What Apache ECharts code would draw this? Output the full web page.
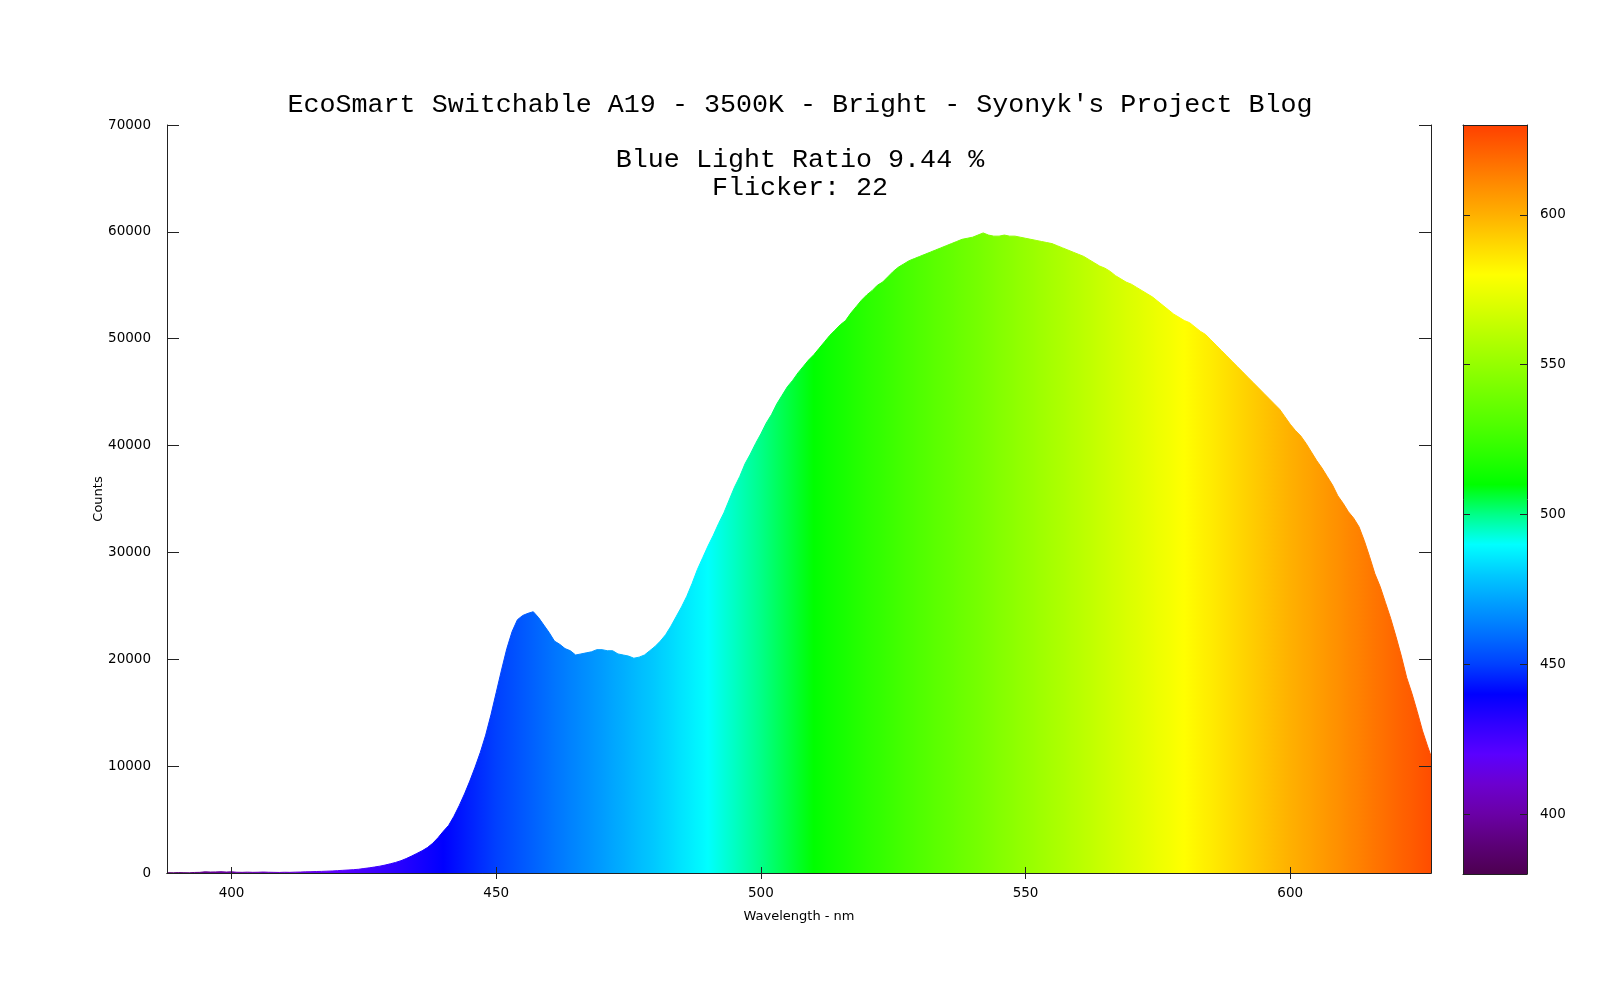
<!DOCTYPE html>
<html>
<head>
<meta charset="utf-8">
<script src="https://cdn.jsdelivr.net/npm/echarts@6/dist/echarts.min.js"></script>
<style>html,body{margin:0;padding:0;background:#fff}#c{width:1600px;height:1000px}</style>
</head>
<body>
<div id="c"></div>
<script>
const titleText = "EcoSmart Switchable A19 - 3500K - Bright - Syonyk's Project Blog";
const noteLines = ["Blue Light Ratio 9.44 %", "Flicker: 22"];
const xName = "Wavelength - nm";
const yName = "Counts";

const wavelength = [
388,389,390,391,392,393,394,395,396,397,
398,399,400,401,402,403,404,405,406,407,
408,409,410,411,412,413,414,415,416,417,
418,419,420,421,422,423,424,425,426,427,
428,429,430,431,432,433,434,435,436,437,
438,439,440,441,442,443,444,445,446,447,
448,449,450,451,452,453,454,455,456,457,
458,459,460,461,462,463,464,465,466,467,
468,469,470,471,472,473,474,475,476,477,
478,479,480,481,482,483,484,485,486,487,
488,489,490,491,492,493,494,495,496,497,
498,499,500,501,502,503,504,505,506,507,
508,509,510,511,512,513,514,515,516,517,
518,519,520,521,522,523,524,525,526,527,
528,529,530,531,532,533,534,535,536,537,
538,539,540,541,542,543,544,545,546,547,
548,549,550,551,552,553,554,555,556,557,
558,559,560,561,562,563,564,565,566,567,
568,569,570,571,572,573,574,575,576,577,
578,579,580,581,582,583,584,585,586,587,
588,589,590,591,592,593,594,595,596,597,
598,599,600,601,602,603,604,605,606,607,
608,609,610,611,612,613,614,615,616,617,
618,619,620,621,622,623,624,625,626,627
];

const counts = [
30,20,40,30,20,50,60,110,90,100,
120,90,110,70,60,80,60,70,90,70,
60,50,70,60,80,90,110,120,140,150,
170,190,220,250,280,310,350,420,480,560,
640,740,860,990,1150,1350,1580,1830,2080,2380,
2780,3300,3900,4450,5300,6300,7400,8600,9900,11300,
12900,14800,16900,19000,21000,22600,23700,24100,24300,24450,
23900,23200,22500,21700,21400,21000,20800,20400,20500,20600,
20700,20900,20900,20800,20800,20500,20400,20300,20100,20200,
20400,20800,21200,21700,22300,23100,24000,24900,25900,27100,
28400,29500,30600,31600,32700,33700,34900,36100,37100,38300,
39200,40200,41100,42100,42900,43900,44700,45500,46100,46800,
47400,48000,48500,49100,49700,50300,50800,51300,51700,52400,
53000,53600,54100,54500,55000,55300,55800,56300,56700,57000,
57300,57500,57700,57900,58100,58300,58500,58700,58900,59100,
59300,59400,59500,59700,59900,59700,59600,59600,59700,59600,
59600,59500,59400,59300,59200,59100,59000,58900,58700,58500,
58300,58100,57900,57700,57400,57100,56800,56600,56300,55900,
55600,55300,55100,54800,54500,54200,53900,53500,53100,52700,
52300,52000,51700,51500,51100,50700,50400,49900,49400,48900,
48400,47900,47400,46900,46400,45900,45400,44900,44400,43900,
43400,42700,42000,41400,40900,40200,39400,38600,37900,37100,
36300,35300,34600,33800,33200,32400,31100,29600,28000,26800,
25300,23800,22100,20300,18300,16800,15100,13300,11800,10400
];

const xRange = [387.8, 626.6];
const xTicks = [400, 450, 500, 550, 600];
const yRange = [0, 70000];
const yStep = 10000;
const colorbarRange = [380, 630];
const colorbarTicks = [400, 450, 500, 550, 600];

const paletteWavelengths = [380,390,400,410,420,430,440,450,460,470,480,490,500,510,520,530,540,550,560,570,580,590,600,610,620,630];
const paletteColors = ['#4d0050','#5c0078','#6a00a6','#6c00d0','#5a00ff','#3000ff','#0000ff','#0040ff','#0070ff','#009cff','#00caff','#00ffff','#00ff88','#00ff00','#2aff00','#50ff00','#72ff00','#95ff00','#b8ff00','#dcff00','#ffff00','#ffd800','#ffb000','#ff8c00','#ff6600','#ff4000'];

const chart = echarts.init(document.getElementById('c'), null, {renderer: 'canvas'});
const points = wavelength.map((w, i) => [w, counts[i]]);
const cbSpan = colorbarRange[1] - colorbarRange[0];
const cbStops = paletteColors.map((c, i) => ({offset: (paletteWavelengths[i] - colorbarRange[0]) / cbSpan, color: c}));

const sans = 'DejaVu Sans';
const mono = 'Liberation Mono';
const lineCol = '#222';
const labelSize = 13.5;
const monoStyle = {fontFamily: mono, fontSize: 26.7, fontWeight: 'normal', color: '#000'};

chart.setOption({
  animation: false,
  backgroundColor: '#fff',
  title: [
    {text: titleText, left: 'center', top: 91, padding: 0, textStyle: monoStyle},
    {text: noteLines[0], left: 'center', top: 146, padding: 0, textStyle: monoStyle},
    {text: noteLines[1], left: 'center', top: 174, padding: 0, textStyle: monoStyle}
  ],
  grid: [
    {left: 167, top: 125, width: 1264, height: 748, containLabel: false},
    {left: 1463, top: 125, width: 64, height: 749, containLabel: false}
  ],
  visualMap: [{
    type: 'continuous', show: false, seriesIndex: 0, dimension: 0,
    min: colorbarRange[0], max: colorbarRange[1],
    inRange: {color: paletteColors}
  }],
  xAxis: [
    {gridIndex: 0, type: 'value', min: xRange[0], max: xRange[1], position: 'bottom', z: 5,
     axisLine: {show: true, lineStyle: {color: lineCol, width: 1}},
     axisTick: {show: true, inside: true, length: 6, lineStyle: {color: lineCol}, customValues: xTicks},
     axisLabel: {show: true, margin: 13, fontFamily: sans, fontSize: labelSize, color: '#000', customValues: xTicks, formatter: v => String(v)},
     splitLine: {show: false},
     name: xName, nameLocation: 'middle', nameGap: 37,
     nameTextStyle: {fontFamily: sans, fontSize: 13, color: '#000'}},
    {gridIndex: 0, type: 'value', min: xRange[0], max: xRange[1], position: 'top', z: 5,
     axisLine: {show: true, lineStyle: {color: lineCol, width: 1}},
     axisTick: {show: true, inside: true, length: 6, lineStyle: {color: lineCol}, customValues: xTicks},
     axisLabel: {show: false}, splitLine: {show: false}},
    {gridIndex: 1, type: 'category', data: ['cb'], position: 'bottom', z: 5,
     axisLine: {show: true, lineStyle: {color: lineCol, width: 1}},
     axisTick: {show: false}, axisLabel: {show: false}, splitLine: {show: false}},
    {gridIndex: 1, type: 'category', data: ['cb'], position: 'top', z: 5,
     axisLine: {show: true, lineStyle: {color: lineCol, width: 1}},
     axisTick: {show: false}, axisLabel: {show: false}, splitLine: {show: false}}
  ],
  yAxis: [
    {gridIndex: 0, type: 'value', min: yRange[0], max: yRange[1], interval: yStep, position: 'left', z: 5,
     axisLine: {show: true, lineStyle: {color: lineCol, width: 1}},
     axisTick: {show: true, inside: true, length: 12, lineStyle: {color: lineCol}},
     axisLabel: {show: true, margin: 16, padding: [4, 0, 0, 0], fontFamily: sans, fontSize: labelSize, color: '#000', formatter: v => String(v)},
     splitLine: {show: false},
     name: yName, nameLocation: 'middle', nameGap: 62, nameRotate: 90, nameMoveOverlap: false,
     nameTextStyle: {fontFamily: sans, fontSize: 13, color: '#000'}},
    {gridIndex: 0, type: 'value', min: yRange[0], max: yRange[1], interval: yStep, position: 'right', z: 5,
     axisLine: {show: true, lineStyle: {color: lineCol, width: 1}},
     axisTick: {show: true, inside: true, length: 12, lineStyle: {color: lineCol}},
     axisLabel: {show: false}, splitLine: {show: false}},
    {gridIndex: 1, type: 'value', min: colorbarRange[0], max: colorbarRange[1], position: 'left', z: 5,
     axisLine: {show: true, lineStyle: {color: lineCol, width: 1}},
     axisTick: {show: true, inside: true, length: 7, lineStyle: {color: lineCol}, customValues: colorbarTicks},
     axisLabel: {show: false}, splitLine: {show: false}},
    {gridIndex: 1, type: 'value', min: colorbarRange[0], max: colorbarRange[1], position: 'right', z: 5,
     axisLine: {show: true, lineStyle: {color: lineCol, width: 1}},
     axisTick: {show: true, inside: true, length: 7, lineStyle: {color: lineCol}, customValues: colorbarTicks},
     axisLabel: {show: true, margin: 13, padding: [2, 0, 0, 0], fontFamily: sans, fontSize: labelSize, color: '#000', customValues: colorbarTicks, formatter: v => String(v)},
     splitLine: {show: false}}
  ],
  series: [
    {type: 'line', xAxisIndex: 0, yAxisIndex: 0, data: points, showSymbol: false, symbol: 'none',
     lineStyle: {width: 1}, areaStyle: {opacity: 1}, z: 2, silent: true},
    {type: 'bar', xAxisIndex: 2, yAxisIndex: 2, stack: 'cb', data: [colorbarRange[0]], barWidth: '100%',
     itemStyle: {color: 'rgba(0,0,0,0)'}, silent: true},
    {type: 'bar', xAxisIndex: 2, yAxisIndex: 2, stack: 'cb', data: [cbSpan], barWidth: '100%',
     itemStyle: {color: new echarts.graphic.LinearGradient(0, 1, 0, 0, cbStops)}, silent: true}
  ]
});
</script>
</body>
</html>
